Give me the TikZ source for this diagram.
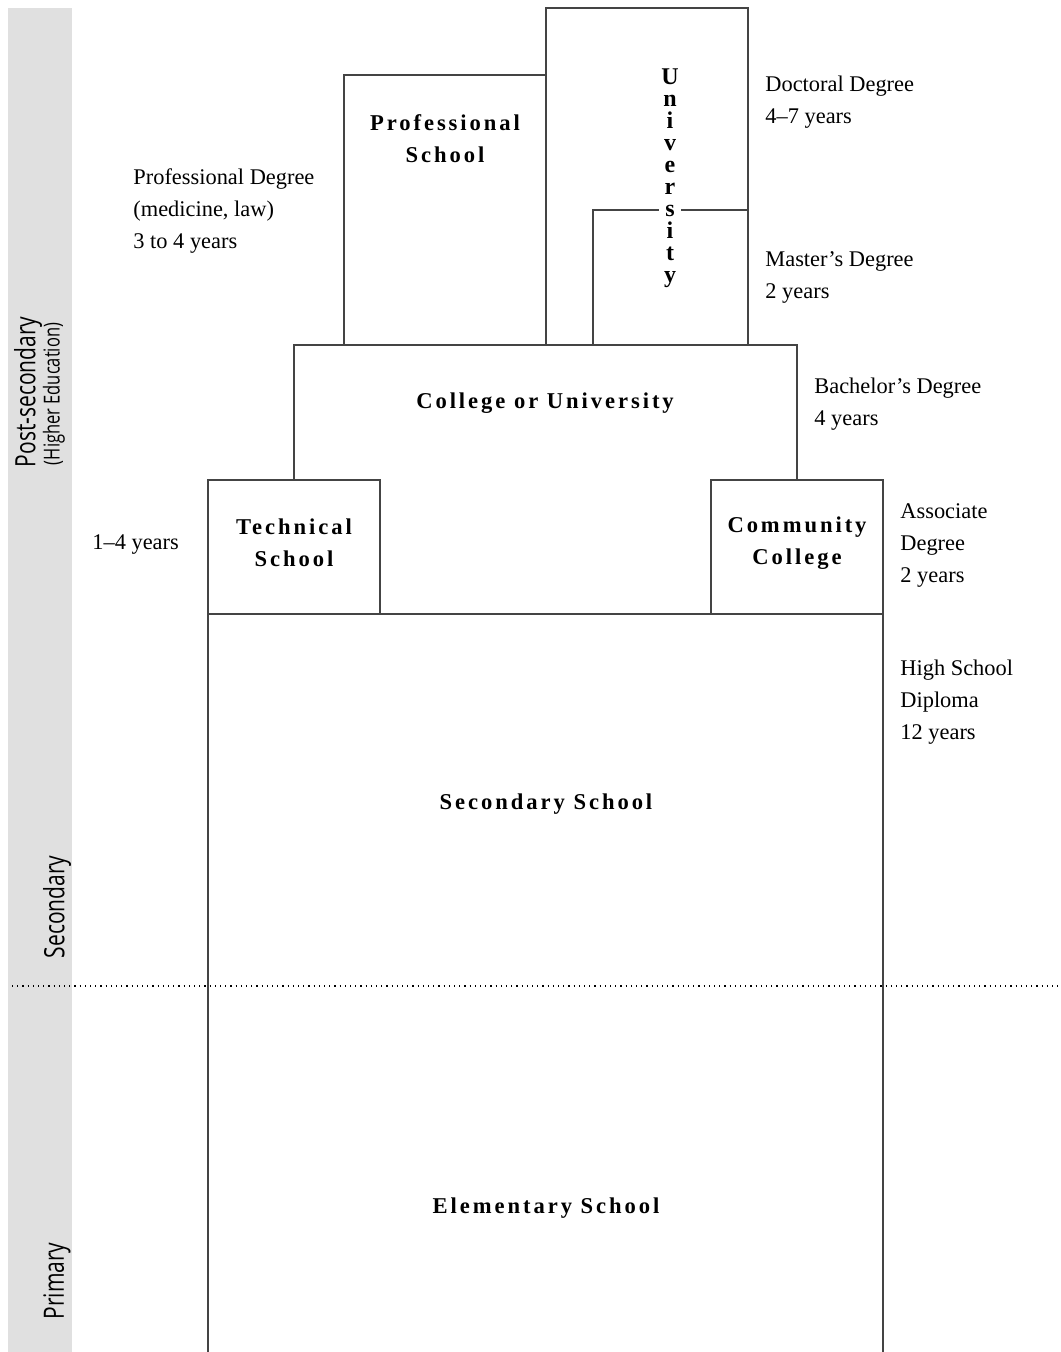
\documentclass[tikz,border=0pt]{standalone}
\usepackage{fontspec}
\setmainfont{Liberation Serif}
\newfontfamily\sidefont[FakeStretch=0.75]{Open Sans}
\newfontfamily\stagefont[LetterSpace=13]{Liberation Serif}
\definecolor{sidegray}{HTML}{E0E0E0}
\definecolor{boxline}{HTML}{444444}
\tikzset{
  stage/.style={font=\stagefont\bfseries\fontsize{11.3}{16}\selectfont, align=center, inner sep=0pt},
  note/.style={font=\fontsize{11.2}{16}\selectfont, align=left, anchor=west, inner sep=0pt},
  side/.style={font=\sidefont\fontsize{14}{14}\selectfont, rotate=90, inner sep=0pt},
  outline/.style={draw=boxline, line width=0.6pt}
}
\begin{document}
\begin{tikzpicture}[x=0.5pt, y=-0.5pt]
  \useasboundingbox (0,0) rectangle (1060,1352);
  % side bar
  \fill[sidegray] (8,8) rectangle (72,1352);
  \node[side] (post) at (28,392) {Post-secondary};
  \node[side, font=\sidefont\fontsize{11}{11}\selectfont] (higher) at (54,394) {(Higher Education)};
  \node[side] (sec) at (57,907) {Secondary};
  \node[side] (prim) at (57,1281) {Primary};
  \draw[dotted, line width=0.6pt] (12,986) -- (1060,986);
  % boxes
  \draw[outline] (208,1352) -- (208,614) -- (883,614) -- (883,1352);
  \draw[outline] (208,480) rectangle (380,614);
  \draw[outline] (711,480) rectangle (883,614);
  \draw[outline] (294,480) -- (294,345) -- (797,345) -- (797,480);
  \draw[outline] (344,345) -- (344,75) -- (546,75);
  \draw[outline] (546,345) -- (546,8) -- (748,8) -- (748,345);
  \draw[outline] (593,345) -- (593,210) -- (748,210);
  % box labels
  \node[stage] (profschool) at (445,139) {Professional\\School};
  \node[font=\bfseries\fontsize{12}{11}\selectfont, align=center, fill=white, inner sep=1pt] (univ) at (670,178)
    {U\\n\\i\\v\\e\\r\\s\\i\\t\\y};
  \node[stage] (college) at (545,403) {College or University};
  \node[stage] (techschool) at (294,543) {Technical\\School};
  \node[stage] (community) at (797,543) {Community\\College};
  \node[stage] (secschool) at (546,804) {Secondary School};
  \node[stage] (elem) at (546,1208) {Elementary School};
  % degrees
  \node[note] (doct) at (765,102) {Doctoral Degree\\4--7 years};
  \node[note] (mast) at (765,277) {Master's Degree\\2 years};
  \node[note] (bach) at (814,404) {Bachelor's Degree\\4 years};
  \node[note] (assoc) at (900,545) {Associate\\Degree\\2 years};
  \node[note] (diploma) at (900,702) {High School\\Diploma\\12 years};
  \node[note] (profdeg) at (133,211) {Professional Degree\\(medicine, law)\\3 to 4 years};
  \node[note] (techyears) at (92,545) {1--4 years};
\end{tikzpicture}
\end{document}
